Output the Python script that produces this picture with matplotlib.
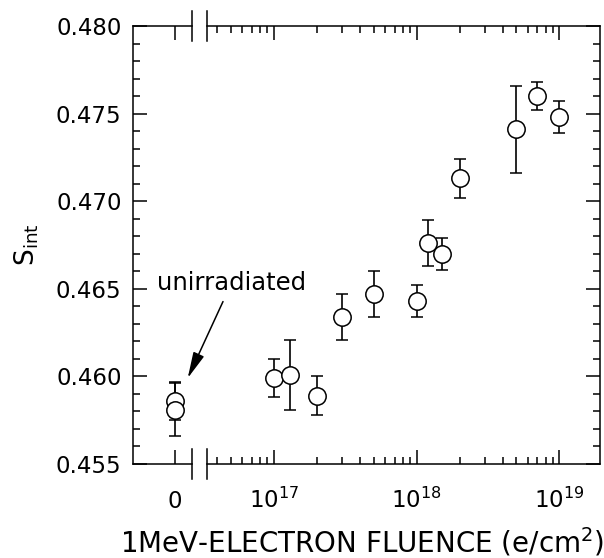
import matplotlib
matplotlib.use("Agg")
import matplotlib.pyplot as plt
from matplotlib.ticker import MultipleLocator, LogLocator, NullFormatter, FixedLocator

# donnees
x_zero = [0, 0]
s_zero = [0.4586, 0.4581]
err_zero = [0.0011, 0.0015]

fluence = [1.0e17, 1.3e17, 2.0e17, 3.0e17, 5.0e17, 1.0e18, 1.2e18, 1.5e18,
           2.0e18, 5.0e18, 7.0e18, 1.0e19]
s_int = [0.4599, 0.4601, 0.4589, 0.4634, 0.4647, 0.4643, 0.4676, 0.4670,
         0.4713, 0.4741, 0.4760, 0.4748]
err = [0.0011, 0.0020, 0.0011, 0.0013, 0.0013, 0.0009, 0.0013, 0.0009,
       0.0011, 0.0025, 0.0008, 0.0009]

W, H = 604, 558
fig = plt.figure(figsize=(W / 100, H / 100), dpi=100)

bas = 1 - 464 / H
haut = 438 / H
ax0 = fig.add_axes([132.7 / W, bas, (191.7 - 132.7) / W, haut])
ax1 = fig.add_axes([207.3 / W, bas, (600 - 207.3) / W, haut], sharey=ax0)

style = dict(fmt='o', ms=12.5, mfc='white', mec='black', mew=1.1,
             ecolor='black', elinewidth=1.2, capsize=4, capthick=1.2)
ax0.errorbar(x_zero, s_zero, yerr=err_zero, **style)
ax1.errorbar(fluence, s_int, yerr=err, **style)

ax0.set_ylim(0.455, 0.480)
ax0.set_xlim(-0.717, 0.283)
ax1.set_xscale('log')
ax1.set_xlim(10 ** 16.533, 10 ** 19.285)

for ax in (ax0, ax1):
    ax.set_facecolor('none')
    for sp in ax.spines.values():
        sp.set_linewidth(1.1)
    ax.tick_params(which='major', direction='in', length=10, width=1.1,
                   labelsize=16.5, top=True, right=True)
    ax.tick_params(which='minor', direction='in', length=5, width=1.1,
                   top=True, right=True)
    ax.yaxis.set_major_locator(MultipleLocator(0.005))
    ax.yaxis.set_minor_locator(MultipleLocator(0.001))

ax0.spines['right'].set_visible(False)
ax0.tick_params(axis='y', which='both', right=False)
ax0.xaxis.set_major_locator(FixedLocator([0]))
ax0.set_xticklabels(['0'])
ax0.tick_params(axis='x', pad=19)
ax0.tick_params(axis='y', pad=8)
ax0.yaxis.set_major_formatter(plt.FormatStrFormatter('%.3f'))

ax1.spines['left'].set_visible(False)
ax1.tick_params(axis='y', which='both', left=False, labelleft=False)
ax1.xaxis.set_major_locator(LogLocator(base=10, numticks=10))
ax1.xaxis.set_minor_locator(LogLocator(base=10, subs=range(2, 10), numticks=20))
ax1.xaxis.set_minor_formatter(NullFormatter())
ax1.tick_params(axis='x', pad=17)

# marques de coupure
d = 15 / 438
for ax, xb in ((ax0, 1), (ax1, 0)):
    for yb in (0, 1):
        ax.plot([xb, xb], [yb - d, yb + d], color='black', lw=1.1,
                transform=ax.transAxes, clip_on=False)

ax0.annotate('unirradiated', xy=(0.215, 0.4599), xycoords='data',
             xytext=(157, H - 283), textcoords='figure pixels',
             fontsize=17.5, va='center', ha='left', annotation_clip=False,
             zorder=10,
             arrowprops=dict(arrowstyle='-|>,head_length=1.0,head_width=0.22',
                             color='black', lw=1.1,
                             mutation_scale=16, shrinkA=3, shrinkB=0))

fig.text(27 / W, 1 - 245 / H, r'S$\mathregular{_{int}}$', rotation=90,
         fontsize=19, ha='center', va='center')
fig.text(362 / W, 1 - 542 / H, r'1MeV-ELECTRON FLUENCE (e/cm$\mathregular{^2}$)',
         fontsize=20, ha='center', va='center')

fig.savefig('out.png', dpi=100)
